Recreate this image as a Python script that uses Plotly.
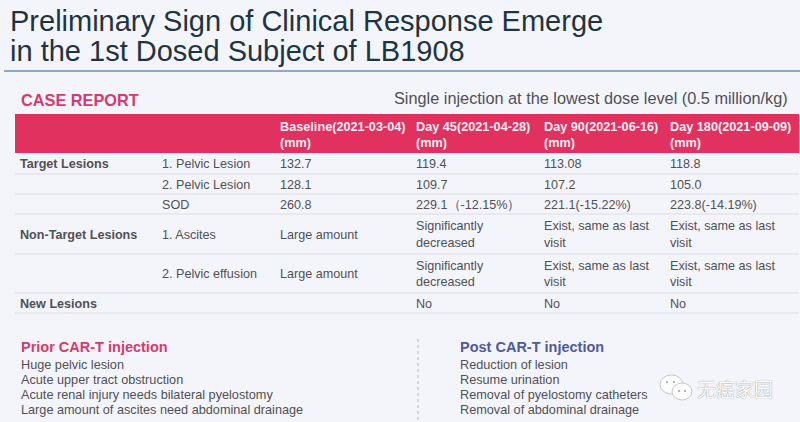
import plotly.graph_objects as go

# --- table content ---
headers = ["", "", "Baseline(2021-03-04)<br>(mm)", "Day 45(2021-04-28)<br>(mm)",
           "Day 90(2021-06-16)<br>(mm)", "Day 180(2021-09-09)<br>(mm)"]
groups = ["Target Lesions", "", "", "Non-Target Lesions", "", "New Lesions"]
lesions = ["1. Pelvic Lesion", "2. Pelvic Lesion", "SOD", "1. Ascites", "2. Pelvic effusion", ""]
baseline = ["132.7", "128.1", "260.8", "Large amount", "Large amount", ""]
day45 = ["119.4", "109.7", "229.1（-12.15%）", "Significantly<br>decreased", "Significantly<br>decreased", "No"]
day90 = ["113.08", "107.2", "221.1(-15.22%)", "Exist, same as last<br>visit", "Exist, same as last<br>visit", "No"]
day180 = ["118.8", "105.0", "223.8(-14.19%)", "Exist, same as last<br>visit", "Exist, same as last<br>visit", "No"]

title_lines = ["Preliminary Sign of Clinical Response Emerge", "in the 1st Dosed Subject of LB1908"]
prior_items = ["Huge pelvic lesion", "Acute upper tract obstruction",
               "Acute renal injury needs bilateral pyelostomy", "Large amount of ascites need abdominal drainage"]
post_items = ["Reduction of lesion", "Resume urination",
              "Removal of pyelostomy catheters", "Removal of abdominal drainage"]

W, H = 800, 422
FONT = "Liberation Sans"
PINK = "#e0315f"
GREY = "#505055"

# page layout, in pixels of the slide
col_left = [20, 162, 280, 416, 544, 670]
row_lines = [153, 174, 194, 214, 254, 293, 313]
row_mid = [(a + b) / 2 + 1.5 for a, b in zip(row_lines[:-1], row_lines[1:])]


def label(x, y, text, size, color, bold=False, anchor="left"):
    return dict(x=x, y=y, xanchor=anchor, yanchor="middle",
                text=f"<b>{text}</b>" if bold else text, showarrow=False,
                font=dict(family=FONT, size=size, color=color))


fig = go.Figure()

# one text trace per table column
columns = [groups, lesions, baseline, day45, day90, day180]
for i, col in enumerate(columns):
    text = [f"<b>{c}</b>" if c else "" for c in col] if i == 0 else col
    fig.add_trace(go.Scatter(x=[col_left[i]] * len(col), y=row_mid, text=text, mode="text",
                             textposition="middle right", hoverinfo="skip",
                             textfont=dict(family=FONT, size=12.6, color=GREY)))
    if headers[i]:
        fig.add_trace(go.Scatter(x=[col_left[i]], y=[136], text=[f"<b>{headers[i]}</b>"], mode="text",
                                 textposition="middle right", hoverinfo="skip",
                                 textfont=dict(family=FONT, size=12.7, color="#f8eef2")))

shapes = [
    dict(type="rect", x0=15, x1=799, y0=114, y1=153, fillcolor=PINK, line_width=0, layer="below"),
    dict(type="line", x0=4, x1=800, y0=71, y1=71, line=dict(color="#6d8dbb", width=1.5), layer="below"),
    dict(type="line", x0=418, x1=418, y0=339, y1=420, line=dict(color="#b5b5bb", width=1, dash="dot"), layer="below"),
]
for y in row_lines[1:]:
    shapes.append(dict(type="line", x0=15, x1=799, y0=y, y1=y, line=dict(color="#dcdce2", width=1), layer="below"))

annotations = [
    label(8, 21, title_lines[0], 29, "#1d3442"),
    label(8, 51, title_lines[1], 29, "#1d3442"),
    label(19, 100, "CASE REPORT", 16.3, "#d63a6c", bold=True),
    label(790, 98, "Single injection at the lowest dose level (0.5 million/kg)", 16.3, GREY, anchor="right"),
    label(19, 347, "Prior CAR-T injection", 14.5, "#d63a6c", bold=True),
    label(458, 347, "Post CAR-T injection", 14.5, "#4f5a9c", bold=True),
]
for i, item in enumerate(prior_items):
    annotations.append(label(19, 364.5 + i * 15.2, item, 12.7, GREY))
for i, item in enumerate(post_items):
    annotations.append(label(458, 364.5 + i * 15.2, item, 12.7, GREY))
annotations.append(dict(x=695, y=388, xanchor="left", yanchor="middle", text="无癌家园", showarrow=False,
                        font=dict(family="Noto Sans CJK SC", size=19, color="#ffffff", shadow="0 0 1px #6a6a70")))

# wechat mark next to the watermark text
for x0, x1, y0, y1 in [(660, 683, 375, 394), (672, 692, 383, 400)]:
    shapes.append(dict(type="circle", x0=x0, x1=x1, y0=y0, y1=y1, fillcolor="#ffffff",
                       line=dict(color="#c4c4ca", width=1)))
for x, y in [(667, 382), (674, 382), (679, 391), (685, 391)]:
    shapes.append(dict(type="circle", x0=x - 1, x1=x + 1, y0=y - 1, y1=y + 1, fillcolor="#9a9aa0", line_width=0))

fig.update_layout(width=W, height=H, margin=dict(l=0, r=0, t=0, b=0),
                  paper_bgcolor="#f4f5fb", plot_bgcolor="#f4f5fb",
                  shapes=shapes, annotations=annotations, showlegend=False)
fig.update_xaxes(range=[0, W], visible=False, fixedrange=True)
fig.update_yaxes(range=[H, 0], visible=False, fixedrange=True)
fig.write_html("out.html", config={"displayModeBar": False}, post_script="document.body.style.margin='0';")
